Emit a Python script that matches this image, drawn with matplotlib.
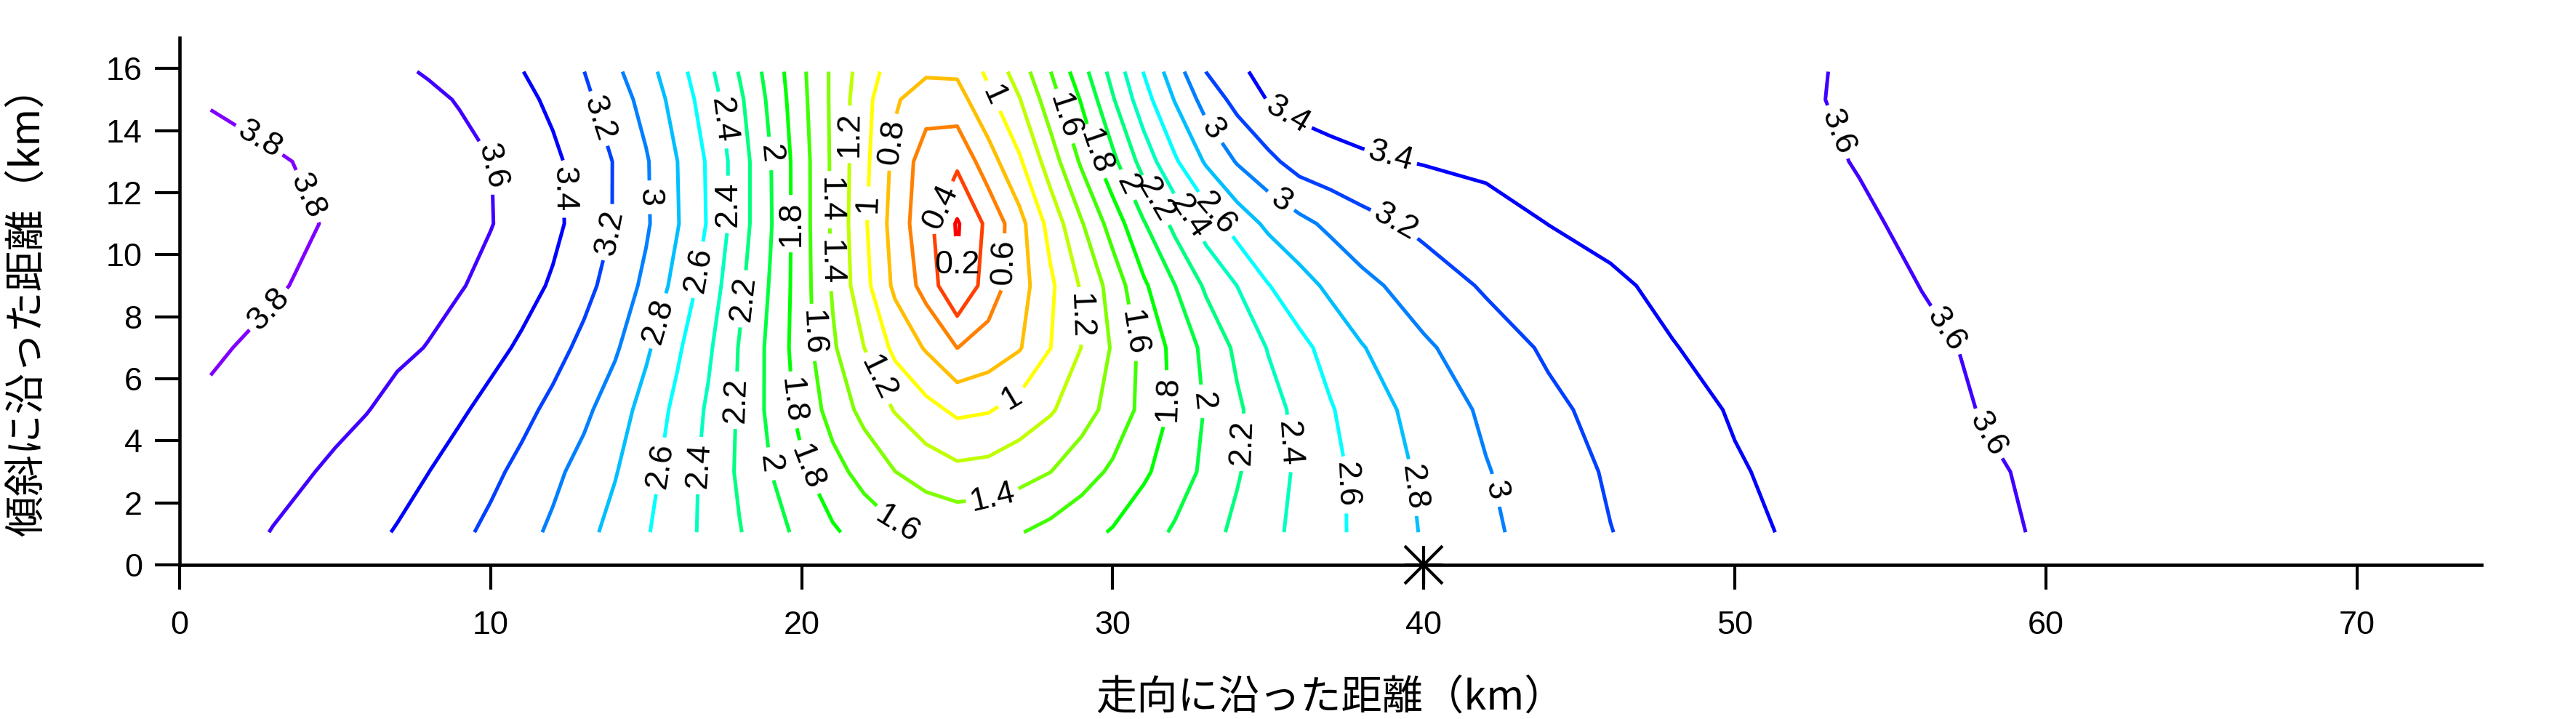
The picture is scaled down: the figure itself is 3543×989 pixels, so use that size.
import numpy as np
import matplotlib
matplotlib.use("Agg")
import matplotlib.pyplot as plt
from matplotlib.colors import hsv_to_rgb

plt.rcParams['font.family'] = ['Liberation Sans', 'Noto Sans CJK JP']

# grid nodes (km): along strike / along dip
x_km = [1, 3, 5, 6, 7, 8, 9, 10, 11, 12, 13, 14, 15, 16, 17, 18, 19, 20, 21, 22,
        23, 24, 25, 26, 27, 28, 29, 30, 31, 32, 33, 34, 35, 36, 37, 38,
        40, 42, 44, 46, 48, 50, 52, 54, 56, 58, 60, 62]
y_km = [1.05, 3, 5, 7, 9, 11, 13, 15, 15.9]

# values, one list per dip row (bottom -> top)
row_01 = [3.69, 3.594, 3.493, 3.443, 3.389, 3.314, 3.24, 3.157, 3.065, 2.967, 2.856, 2.739,
          2.617, 2.485, 2.349, 2.21, 2.078, 1.95, 1.825, 1.727, 1.636, 1.58, 1.55,
          1.56, 1.59, 1.659, 1.735, 1.816, 1.919, 2.024, 2.133, 2.241, 2.348, 2.451, 2.552, 2.645,
          2.815, 2.963, 3.084, 3.196, 3.278, 3.358, 3.423, 3.471, 3.519, 3.567, 3.616, 3.64]
row_03 = [3.72, 3.653, 3.575, 3.517, 3.46, 3.402, 3.323, 3.243, 3.151, 3.045, 2.932, 2.812,
          2.666, 2.511, 2.346, 2.169, 2.002, 1.833, 1.672, 1.529, 1.402, 1.31, 1.25,
          1.27, 1.33, 1.398, 1.514, 1.634, 1.769, 1.904, 2.041, 2.183, 2.311, 2.434, 2.548, 2.652,
          2.836, 2.989, 3.111, 3.221, 3.303, 3.386, 3.44, 3.488, 3.537, 3.585, 3.62, 3.645]
row_05 = [3.775, 3.708, 3.64, 3.607, 3.55, 3.488, 3.426, 3.346, 3.254, 3.154, 3.043, 2.897,
          2.726, 2.552, 2.373, 2.177, 1.953, 1.74, 1.521, 1.344, 1.188, 1.063, 0.96,
          0.985, 1.077, 1.179, 1.314, 1.473, 1.656, 1.841, 2.015, 2.169, 2.318, 2.456, 2.585, 2.694,
          2.881, 3.033, 3.161, 3.258, 3.342, 3.414, 3.462, 3.51, 3.558, 3.606, 3.63, 3.655]
row_07 = [3.82, 3.764, 3.697, 3.664, 3.631, 3.594, 3.524, 3.453, 3.373, 3.267, 3.153, 3.028,
          2.832, 2.63, 2.432, 2.188, 1.952, 1.695, 1.427, 1.202, 0.95, 0.78, 0.598,
          0.68, 0.785, 0.998, 1.204, 1.42, 1.657, 1.859, 2.053, 2.24, 2.412, 2.545, 2.67, 2.788,
          2.971, 3.11, 3.226, 3.311, 3.395, 3.443, 3.488, 3.534, 3.579, 3.615, 3.64, 3.665]
row_09 = [3.86, 3.816, 3.755, 3.72, 3.684, 3.648, 3.613, 3.548, 3.467, 3.379, 3.257, 3.12,
          2.956, 2.735, 2.51, 2.243, 1.983, 1.695, 1.379, 1.067, 0.758, 0.525, 0.21,
          0.496, 0.714, 0.964, 1.224, 1.481, 1.769, 1.998, 2.232, 2.402, 2.592, 2.723, 2.841, 2.944,
          3.1, 3.222, 3.3, 3.378, 3.431, 3.474, 3.516, 3.559, 3.602, 3.63, 3.655, 3.68]
row_11 = [3.87, 3.832, 3.789, 3.752, 3.716, 3.68, 3.644, 3.607, 3.53, 3.442, 3.328, 3.187,
          3.027, 2.813, 2.582, 2.294, 2.014, 1.687, 1.369, 1.033, 0.717, 0.467, 0.18,
          0.45, 0.733, 1.071, 1.385, 1.686, 1.985, 2.255, 2.49, 2.686, 2.842, 2.947, 3.043, 3.13,
          3.247, 3.325, 3.402, 3.439, 3.476, 3.512, 3.549, 3.586, 3.62, 3.645, 3.67, 3.69]
row_13 = [3.85, 3.816, 3.765, 3.733, 3.7, 3.668, 3.635, 3.603, 3.523, 3.438, 3.326, 3.188,
          3.02, 2.802, 2.574, 2.298, 2.006, 1.687, 1.365, 1.056, 0.747, 0.5, 0.44,
          0.711, 0.971, 1.3, 1.632, 1.949, 2.283, 2.572, 2.824, 3.015, 3.15, 3.28, 3.33, 3.37,
          3.41, 3.44, 3.47, 3.5, 3.53, 3.55, 3.575, 3.605, 3.63, 3.65, 3.67, 3.69]
row_15 = [3.79, 3.742, 3.694, 3.67, 3.646, 3.622, 3.593, 3.521, 3.449, 3.362, 3.243, 3.1,
          2.929, 2.722, 2.5, 2.238, 1.955, 1.654, 1.361, 1.069, 0.824, 0.69, 0.72,
          0.95, 1.19, 1.508, 1.819, 2.182, 2.521, 2.812, 3.081, 3.262, 3.41, 3.47, 3.5, 3.51,
          3.52, 3.53, 3.54, 3.55, 3.56, 3.575, 3.59, 3.612, 3.63, 3.65, 3.67, 3.69]
row_16 = [3.73, 3.692, 3.654, 3.635, 3.616, 3.591, 3.529, 3.468, 3.406, 3.305, 3.202, 3.04,
          2.872, 2.674, 2.448, 2.187, 1.923, 1.639, 1.363, 1.107, 0.9, 0.83, 0.83,
          1.04, 1.297, 1.597, 1.925, 2.268, 2.609, 2.912, 3.202, 3.37, 3.45, 3.49, 3.52, 3.53,
          3.54, 3.55, 3.56, 3.565, 3.57, 3.58, 3.59, 3.61, 3.63, 3.65, 3.67, 3.69]

levels = [0.2, 0.4, 0.6, 0.8, 1.0, 1.2, 1.4, 1.6, 1.8, 2.0,
          2.2, 2.4, 2.6, 2.8, 3.0, 3.2, 3.4, 3.6, 3.8]

epicenter = (40, 0)

# where the labels sit on the map (km)
label_xy = [
    (2.75, 14.04), (4.76, 12.2), (2.95, 8.14),
    (10.06, 12.86), (53.15, 13.89), (56.65, 7.48), (58.05, 4.16),
    (12.61, 12.12), (35.76, 14.74), (38.96, 13.26),
    (13.55, 14.41), (13.82, 10.72), (39.03, 10.92),
    (15.15, 11.85), (33.0, 13.88), (35.41, 11.74), (42.27, 2.39),
    (15.34, 7.88), (39.7, 2.5),
    (16.67, 9.51), (15.34, 3.21), (37.48, 2.58), (33.31, 11.31),
    (17.53, 14.35), (17.64, 11.62), (16.59, 3.21), (35.65, 3.91), (32.49, 11.23),
    (18.07, 8.58), (17.76, 5.31), (34.24, 3.95), (31.4, 11.77),
    (18.97, 13.26), (18.89, 3.24), (32.88, 5.27), (30.46, 12.24),
    (19.63, 11.0), (19.71, 5.31), (20.18, 3.13), (31.79, 5.35), (29.45, 13.33),
    (20.29, 7.49), (23.06, 1.26), (30.7, 7.49), (28.32, 14.42),
    (20.84, 11.77), (20.84, 9.75), (26.1, 2.3),
    (21.5, 13.88), (22.44, 6.01), (29.02, 8.03),
    (22.01, 11.66), (26.18, 15.13), (26.84, 5.23),
    (22.83, 13.64),
    (26.8, 9.75),
    (24.15, 11.7),
    (24.85, 9.59),
]

z = np.array([row_01, row_03, row_05, row_07, row_09, row_11, row_13, row_15, row_16])

# rainbow: red for the lowest level to violet for the highest
colors = [hsv_to_rgb((0.75 * (lv - levels[0]) / (levels[-1] - levels[0]), 1.0, 1.0))
          for lv in levels]

fig = plt.figure(figsize=(11.81, 3.2967), dpi=300)
ax = fig.add_axes([0.0697, 0.2144, 0.8936, 0.7334])

cs = ax.contour(x_km, y_km, z, levels=levels, colors=colors, linewidths=1.2)
ax.clabel(cs, levels, inline=True, inline_spacing=14, fmt='%g',
          fontsize=10.8, colors='k', manual=label_xy)

# epicenter star
ax.plot(*epicenter, marker='+', ms=12.5, mew=1.0, color='k', clip_on=False, zorder=5)
ax.plot(*epicenter, marker='x', ms=12.5, mew=1.0, color='k', clip_on=False, zorder=5)

ax.set_xlim(0, 74)
ax.set_ylim(0, 17)
ax.set_xticks(range(0, 71, 10))
ax.set_yticks(range(0, 17, 2))

for s in ['top', 'right']:
    ax.spines[s].set_visible(False)
for s in ['left', 'bottom']:
    ax.spines[s].set_linewidth(1.1)

ax.tick_params(axis='both', direction='out', length=8.2, width=1.0, labelsize=10.8)
ax.tick_params(axis='x', pad=7)
ax.tick_params(axis='y', pad=4)

ax.set_xlabel('走向に沿った距離（km）', family=['Noto Sans CJK JP'], fontsize=13.5, labelpad=12)
ax.set_ylabel('傾斜に沿った距離（km）', family=['Noto Sans CJK JP'], fontsize=13.5, labelpad=19)

fig.savefig('out.png', dpi=300)
